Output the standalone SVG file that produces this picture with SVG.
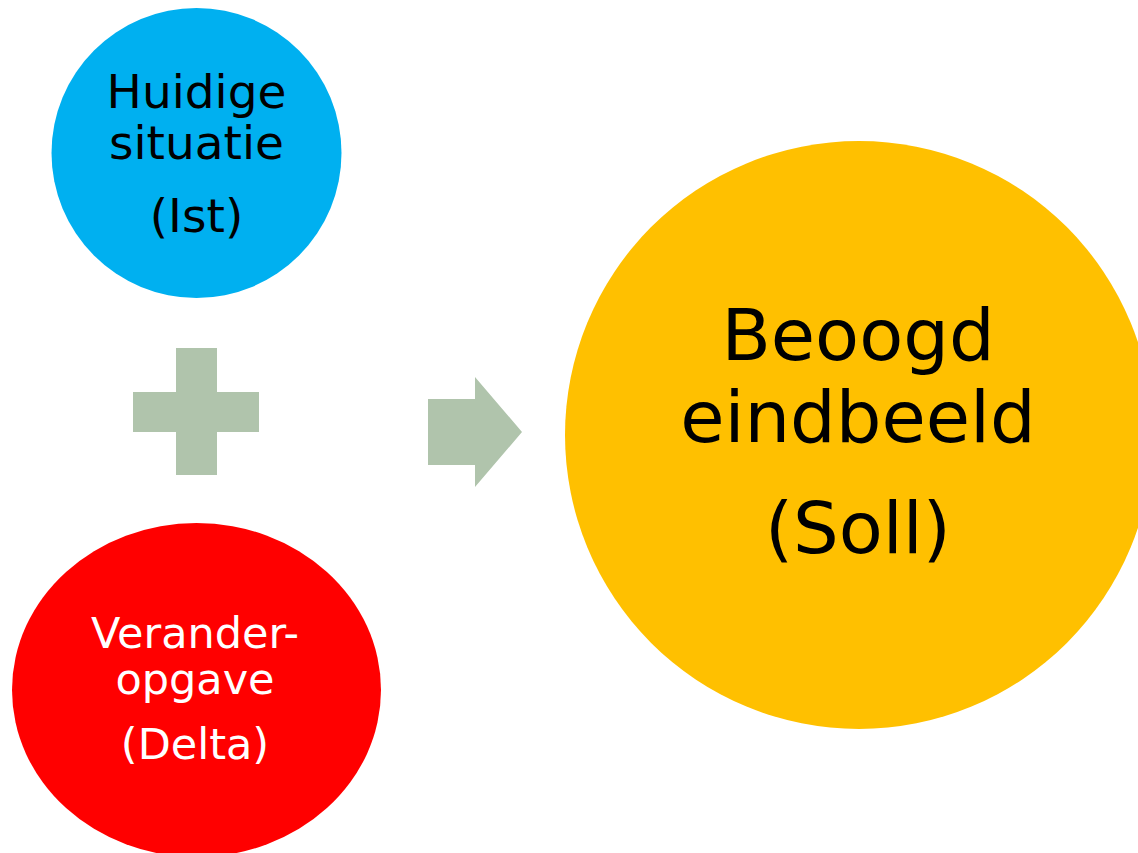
<svg xmlns="http://www.w3.org/2000/svg" width="1138" height="853" viewBox="0 0 1138 853">
  <style>
    text { font-family: "DejaVu Sans", Verdana, "Liberation Sans", sans-serif; text-anchor: middle; }
    .dark { fill: #000000; }
    .light { fill: #FFFFFF; }
    .sym { fill: #B0C4AC; }
  </style>
  <rect x="0" y="0" width="1138" height="853" fill="#FFFFFF"/>
  <g id="node-ist">
    <circle cx="196.5" cy="153" r="145" fill="#00B0F0"/>
    <text class="dark" x="196.5" y="108" font-size="47">Huidige</text>
    <text class="dark" x="196.5" y="159" font-size="47">situatie</text>
    <text class="dark" x="196.5" y="232" font-size="47">(Ist)</text>
  </g>
  <g id="node-delta">
    <ellipse cx="196.5" cy="690" rx="184.5" ry="167" fill="#FF0000"/>
    <text class="light" x="195" y="648" font-size="43">Verander-</text>
    <text class="light" x="195" y="694" font-size="43">opgave</text>
    <text class="light" x="195" y="759" font-size="43">(Delta)</text>
  </g>
  <g id="node-soll">
    <circle cx="859" cy="435" r="294" fill="#FFC000"/>
    <text class="dark" x="858" y="360" font-size="72">Beoogd</text>
    <text class="dark" x="858" y="442" font-size="72">eindbeeld</text>
    <text class="dark" x="858" y="553" font-size="72">(Soll)</text>
  </g>
  <g id="connectors">
    <path id="plus" class="sym" d="M176,348 H217 V392 H259 V432 H217 V475 H176 V432 H133 V392 H176 Z"/>
    <path id="arrow" class="sym" d="M428,399 H475 V377 L522,432 L475,487 V465 H428 Z"/>
  </g>
</svg>
